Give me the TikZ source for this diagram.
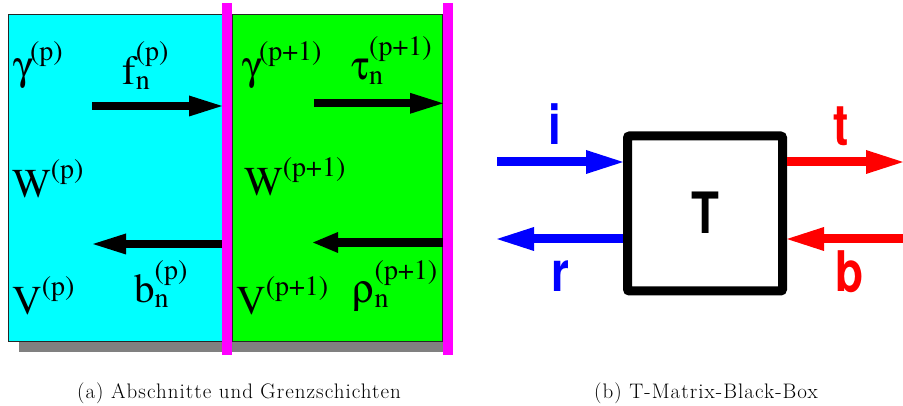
\documentclass[tikz,border=0pt]{standalone}
\usepackage{fontspec}
\usepackage{graphicx}
\usetikzlibrary{arrows.meta}
\newfontfamily\capfont[LetterSpace=5]{Latin Modern Roman}
\newcommand\tms{\usefont{OT1}{ptm}{m}{n}}
\newcommand\grk[1]{{\usefont{U}{psy}{m}{n}#1}}
\newcommand\hlvb{\usefont{OT1}{phv}{b}{n}}
\newcommand\mainsz{\tms\fontsize{41}{41}\selectfont}
\newcommand\scrsz{\tms\fontsize{28}{28}\selectfont}
\newcommand\SupOnly[2]{{\mainsz #1}\raisebox{19pt}{\scrsz #2}}
\newcommand\SupSub[3]{{\mainsz #1}\makebox[0pt][l]{\raisebox{-5pt}{\scrsz #2}}\raisebox{24pt}{\scrsz #3}}
\definecolor{shadowgray}{RGB}{128,128,128}
\definecolor{cyanc}{RGB}{0,255,255}
\definecolor{greenc}{RGB}{0,255,0}
\definecolor{magc}{RGB}{255,0,255}
\definecolor{bluec}{RGB}{0,0,255}
\definecolor{redc}{RGB}{255,0,0}
\tikzset{
  panelbox/.style={draw=black!85, line width=0.8pt},
  bar/.style={fill=magc, draw=none, minimum width=10pt, minimum height=352pt, inner sep=0pt, outer sep=0pt},
  symlbl/.style={anchor=base west, inner sep=0pt},
  blkarr/.style={line width=8.3pt, -{Triangle[length=33pt,width=21pt,line width=0pt]}},
  blkarrs/.style={line width=8.3pt, -{Triangle[length=25pt,width=21pt,line width=0pt]}},
  bluearr/.style={bluec, line width=9pt, -{Triangle[length=37pt,width=24pt,line width=0pt]}},
  redarr/.style={redc, line width=9pt, -{Triangle[length=37pt,width=24pt,line width=0pt]}},
  tbox/.style={draw, line width=9pt, minimum width=155pt, minimum height=155pt, rounded corners=2pt, inner sep=0pt, fill=white},
  portlbl/.style={font=\hlvb\fontsize{56}{56}\selectfont, anchor=base, inner sep=0pt, xscale=0.82},
  capt/.style={font=\capfont\fontsize{21}{24}\selectfont, anchor=base, inner sep=0pt},
}
\begin{document}
\begin{tikzpicture}[x=1pt,y=-1pt]
\useasboundingbox (0,0) rectangle (903,406);
% ---------- panel (a)
\fill[shadowgray] (19,25) rectangle (443,352);
\filldraw[fill=cyanc, panelbox] (8,14) rectangle (222,341);
\filldraw[fill=greenc, panelbox] (232,14) rectangle (442,341);
\node[symlbl] (gp) at (13,80) {\SupOnly{\grk{g}}{(p)}};
\node[symlbl] (fp) at (122,85) {\SupSub{f}{n}{(p)}};
\node[symlbl] (Wp) at (12,198) {\SupOnly{W}{(p)}};
\node[symlbl] (Vp) at (12,315) {\SupOnly{V}{(p)}};
\node[symlbl] (bp) at (134,303) {\SupSub{b}{n}{(p)}};
\node[symlbl] (g1) at (242,80) {\SupOnly{\grk{g}}{(p+1)}};
\node[symlbl] (tau1) at (351,80) {\SupSub{\grk{t}}{n}{(p+1)}};
\node[symlbl] (W1) at (244,196) {\SupOnly{W}{(p+1)}};
\node[symlbl] (V1) at (236,315) {\SupOnly{V}{(p+1)}};
\node[symlbl] (rho1) at (352,303) {\SupSub{\grk{r}}{n}{(p+1)}};
\node[bar] (bar1) at (227,179) {};
\node[bar] (bar2) at (448,179) {};
\coordinate (fS) at (92,106);
\coordinate (tS) at (314,103.3);
\coordinate (bE) at (93,244);
\coordinate (rE) at (313,242.5);
\draw[blkarr] (fS) -- (fS -| bar1.west);
\draw[blkarr] (tS) -- (tS -| bar2.west);
\draw[blkarr] (bE -| bar1.west) -- (bE);
\draw[blkarrs] (rE -| bar2.west) -- (rE);
% ---------- panel (b)
\node[tbox] (box) at (705,213.5) {\scalebox{0.8}[1]{\hlvb\fontsize{57}{57}\selectfont T}};
\coordinate (iS) at (497,162);
\coordinate (rrE) at (497,239);
\coordinate (ttE) at (903,162);
\coordinate (bbS) at (903,239);
\draw[bluearr] (iS) -- (iS -| box.west);
\draw[bluearr] (rrE -| box.west) -- (rrE);
\draw[redarr] (ttE -| box.east) -- (ttE);
\draw[redarr] (bbS) -- (bbS -| box.east);
\node[portlbl, text=bluec] (li) at (555,145) {i};
\node[portlbl, text=redc] (lt) at (841,145) {t};
\node[portlbl, text=bluec] (lr) at (560,292) {r};
\node[portlbl, text=redc] (lb) at (850,292) {b};
% ---------- captions
\node[capt] (capa) at (239,398) {(a) Abschnitte und Grenzschichten};
\node[capt] (capb) at (706,398) {(b) T-Matrix-Black-Box};
\end{tikzpicture}
\end{document}
